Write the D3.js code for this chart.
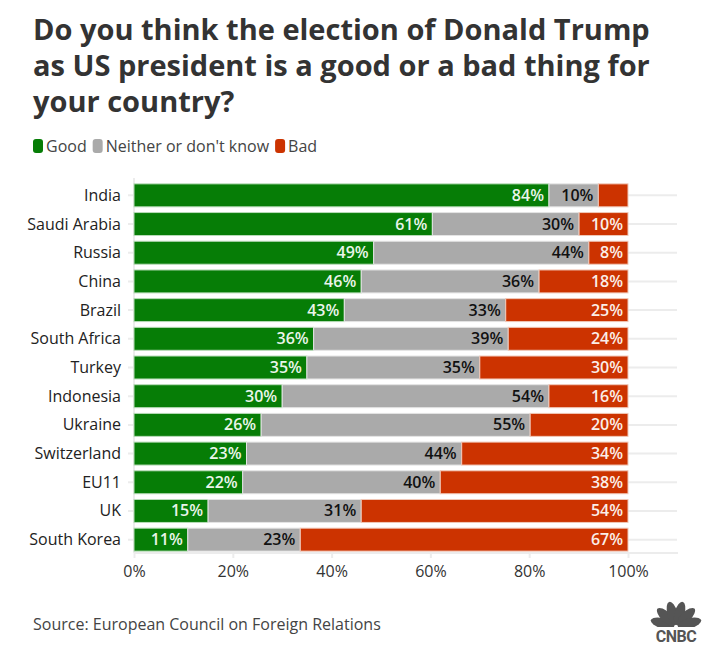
<!DOCTYPE html>
<html>
<head>
<meta charset="utf-8">
<script src="https://cdn.jsdelivr.net/npm/d3@7"></script>
<style>
	body { margin: 0; background: #fff; }
	svg { display: block; font-family: "Open Sans", "Noto Sans", sans-serif; }
</style>
</head>
<body>
<svg width="719" height="650"></svg>
<script>
(function() {
	"use strict"

	var countries = ["India", "Saudi Arabia", "Russia", "China", "Brazil", "South Africa", "Turkey", "Indonesia", "Ukraine", "Switzerland", "EU11", "UK", "South Korea"],
		good = [84, 61, 49, 46, 43, 36, 35, 30, 26, 23, 22, 15, 11],
		neither = [10, 30, 44, 36, 33, 39, 35, 54, 55, 44, 40, 31, 23],
		bad = [6, 10, 8, 18, 25, 24, 30, 16, 20, 34, 38, 54, 67],
		seriesNames = ["Good", "Neither or don't know", "Bad"],
		tickValues = [0, 0.2, 0.4, 0.6, 0.8, 1],
		titleLines = ["Do you think the election of Donald Trump", "as US president is a good or a bad thing for", "your country?"],
		source = "Source: European Council on Foreign Relations";

	var colors = ["#067d06", "#aaaaaa", "#cc3300"],
		borders = ["#b9dcb9", "#e4e4e4", "#f0c8b8"],
		labelColors = ["#eaf5ea", "#111111", "#fbeee8"],
		keys = ["good", "neither", "bad"];

	var rows = countries.map(function(c, i) {
		return { country : c, good : good[i], neither : neither[i], bad : bad[i] };
	});

	var svg = d3.select("svg");

	// title, one text block with a line per tspan
	svg.append("text")
		.attr("x", 33)
		.attr("y", 40)
		.style("font-size", "29px")
		.style("font-weight", "bold")
		.style("fill", "#333")
		.selectAll("tspan")
		.data(titleLines)
		.enter()
		.append("tspan")
			.attr("x", 33)
			.attr("dy", function(d, i) { return i === 0 ? 0 : 36; })
			.text(function(d) { return d; });

	// legend
	var legend = svg.append("g").attr("transform", "translate(33,146)"),
		lx = 0;
	seriesNames.forEach(function(name, i) {
		legend.append("rect")
			.attr("x", lx).attr("y", -7)
			.attr("width", 10).attr("height", 14)
			.attr("rx", 3)
			.style("fill", colors[i]);
		var t = legend.append("text")
			.attr("x", lx + 13).attr("y", 6)
			.style("font-size", "16px")
			.style("fill", "#444")
			.text(name);
		lx += 13 + t.node().getComputedTextLength() + 6;
	});

	var x = d3.scaleLinear().domain([0, 1]).range([134, 628]),
		y = d3.scaleBand().domain(countries).range([181, 554]).paddingInner(0.2).paddingOuter(0.1);

	var stack = d3.stack().keys(keys).offset(d3.stackOffsetExpand)(rows);

	// grid
	var grid = svg.append("g");
	grid.selectAll("line.h")
		.data(countries)
		.enter()
		.append("line")
			.attr("x1", 128).attr("x2", 677)
			.attr("y1", function(d) { return y(d) + y.bandwidth() / 2; })
			.attr("y2", function(d) { return y(d) + y.bandwidth() / 2; })
			.style("stroke", "#ececec")
			.style("stroke-width", 2);
	grid.append("line")
		.attr("x1", 134).attr("x2", 134).attr("y1", 178).attr("y2", 553)
		.style("stroke", "#ececec").style("stroke-width", 2);
	grid.append("line")
		.attr("x1", 134).attr("x2", 678).attr("y1", 553).attr("y2", 553)
		.style("stroke", "#ececec").style("stroke-width", 2);

	// bars
	var layers = svg.append("g")
		.selectAll("g")
		.data(stack)
		.enter()
		.append("g");

	layers.selectAll("rect")
		.data(function(d) { return d; })
		.enter()
		.append("rect")
			.attr("x", function(d) { return x(d[0]); })
			.attr("y", function(d) { return y(d.data.country); })
			.attr("width", function(d) { return x(d[1]) - x(d[0]); })
			.attr("height", y.bandwidth())
			.style("fill", function(d) { return colors[d3.select(this.parentNode).datum().index]; })
			.style("stroke", function(d) { return borders[d3.select(this.parentNode).datum().index]; })
			.style("stroke-width", 1);

	layers.selectAll("text")
		.data(function(d) {
			var key = d.key;
			return d.filter(function(p) { return p.data[key] >= 7; });
		})
		.enter()
		.append("text")
			.attr("x", function(d) { return x(d[1]) - 5; })
			.attr("y", function(d) { return y(d.data.country) + y.bandwidth() / 2 + 5.5; })
			.attr("text-anchor", "end")
			.style("font-size", "16px")
			.style("font-weight", 600)
			.style("fill", function(d) { return labelColors[d3.select(this.parentNode).datum().index]; })
			.text(function(d) {
				var key = d3.select(this.parentNode).datum().key;
				return d.data[key] + "%";
			});

	// y axis labels
	svg.append("g")
		.selectAll("text")
		.data(countries)
		.enter()
		.append("text")
			.attr("x", 121)
			.attr("y", function(d) { return y(d) + y.bandwidth() / 2 + 5.5; })
			.attr("text-anchor", "end")
			.style("font-size", "16px")
			.style("fill", "#222")
			.text(function(d) { return d; });

	// x axis
	var xAxis = svg.append("g")
		.attr("transform", "translate(0,553)")
		.call(d3.axisBottom(x).tickValues(tickValues).tickFormat(d3.format(".0%")).tickSize(5).tickPadding(8));
	xAxis.select(".domain").remove();
	xAxis.selectAll(".tick line").style("stroke", "#ececec").style("stroke-width", 2);
	xAxis.selectAll(".tick text")
		.style("font-size", "16px")
		.style("font-family", "'Open Sans', sans-serif")
		.style("fill", "#333");

	// source
	svg.append("text")
		.attr("x", 33).attr("y", 630)
		.style("font-size", "16px")
		.style("fill", "#444")
		.text(source);

	// CNBC logo
	var logo = svg.append("g").attr("transform", "translate(676,627)"),
		feathers = [-75, -45, -15, 15, 45, 75];
	feathers.forEach(function(a) {
		logo.append("ellipse")
			.attr("cx", 0).attr("cy", -14)
			.attr("rx", 5).attr("ry", 12)
			.attr("transform", "rotate(" + a + ")")
			.style("fill", "#555");
	});
	logo.append("rect").attr("x", -26).attr("y", 0).attr("width", 52).attr("height", 4).style("fill", "#fff");
	logo.append("text")
		.attr("x", 0).attr("y", 15)
		.attr("text-anchor", "middle")
		.style("font-family", "Roboto, sans-serif")
		.style("font-size", "16px")
		.style("font-weight", "bold")
		.style("letter-spacing", "-0.5px")
		.style("fill", "#555")
		.text("CNBC");
})();
</script>
</body>
</html>
